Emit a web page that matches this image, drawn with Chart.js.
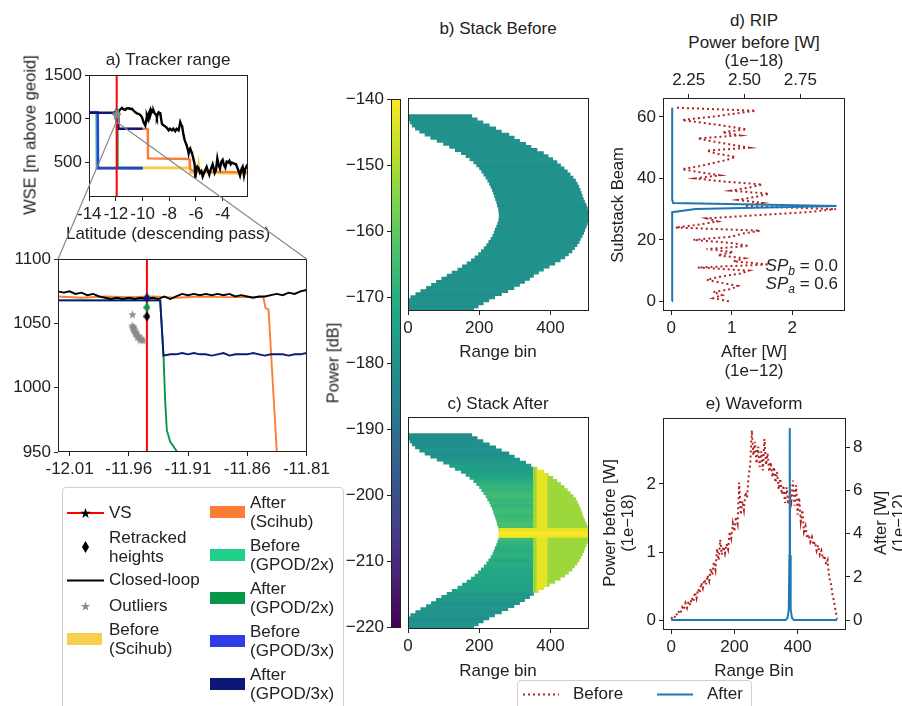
<!DOCTYPE html>
<html>
<head>
<meta charset="utf-8">
<script src="https://cdn.jsdelivr.net/npm/chart.js@4.4.1/dist/chart.umd.min.js"></script>
<style>
  body { margin: 0; background: #fff; }
  #fig { position: relative; width: 902px; height: 706px; overflow: hidden; font-family: 'Liberation Sans', Arial, sans-serif; font-size: 17px; color: #222; }
  #fig canvas { position: absolute; }
  .lbl { position: absolute; white-space: nowrap; transform: translate(-50%, -50%); line-height: 19px; }
  .rot { transform: translate(-50%, -50%) rotate(-90deg); font-size: 16.5px; }
  .box { position: absolute; border: 1px solid #d0d0d0; border-radius: 4px; background: rgba(255,255,255,0.85); }
  .leg { position: absolute; white-space: nowrap; line-height: 18.5px; transform: translateY(-50%); }
  .hnd { position: absolute; transform: translateY(-50%); }
  #ov { left: 0; top: 0; z-index: 5; pointer-events: none; }
</style>
</head>
<body>
<div id="fig">
  <canvas id="cA"></canvas>
  <canvas id="cZ"></canvas>
  <canvas id="cCb"></canvas>
  <canvas id="cB"></canvas>
  <canvas id="cC"></canvas>
  <canvas id="cD"></canvas>
  <canvas id="cE"></canvas>

  <div class="lbl" style="left:168px;top:59px">a) Tracker range</div>
  <div class="lbl rot" style="left:30px;top:135px">WSE [m above geoid]</div>
  <div class="lbl" style="left:168px;top:233px">Latitude (descending pass)</div>

  <div class="lbl" style="left:498px;top:28px">b) Stack Before</div>
  <div class="lbl" style="left:498px;top:351px">Range bin</div>
  <div class="lbl" style="left:498px;top:403px">c) Stack After</div>
  <div class="lbl" style="left:498px;top:670px">Range bin</div>
  <div class="lbl rot" style="left:333px;top:363px">Power [dB]</div>

  <div class="lbl" style="left:754px;top:20px">d) RIP</div>
  <div class="lbl" style="left:754px;top:42px">Power before [W]</div>
  <div class="lbl" style="left:754px;top:60px">(1e&#8722;18)</div>
  <div class="lbl rot" style="left:617px;top:205px">Substack Beam</div>
  <div class="lbl" style="left:754px;top:351px">After [W]</div>
  <div class="lbl" style="left:754px;top:370px">(1e&#8722;12)</div>
  <div class="leg" style="right:64px;top:269px"><i>SP</i><sub style="font-size:12px"><i>b</i></sub> = 0.0</div>
  <div class="leg" style="right:64px;top:287px"><i>SP</i><sub style="font-size:12px"><i>a</i></sub> = 0.6</div>

  <div class="lbl" style="left:754px;top:403px">e) Waveform</div>
  <div class="lbl rot" style="left:609px;top:523px">Power before [W]</div>
  <div class="lbl rot" style="left:627px;top:523px">(1e&#8722;18)</div>
  <div class="lbl rot" style="left:880px;top:523px">After [W]</div>
  <div class="lbl rot" style="left:898px;top:523px">(1e&#8722;12)</div>
  <div class="lbl" style="left:754px;top:670px">Range Bin</div>

  <div class="box" style="left:62px;top:487px;width:280px;height:240px"></div>
  <div id="legA"></div>

  <div class="box" style="left:517px;top:680px;width:233px;height:40px"></div>
  <div id="legE"></div>

  <canvas id="ov"></canvas>
</div>

<script>
// ---------- a) tracker range (latitude in deg, WSE in m) ----------
const vsLat = -11.9447;
const latTicksA = [-14, -12, -10, -8, -6, -4];
const wseTicksA = [500, 1000, 1500];
const zoomLatRange = [-12.0198, -11.8095];
const zoomWseRange = [950, 1100];
const latTicksZoom = [-12.01, -11.96, -11.91, -11.86, -11.81];
const wseTicksZoom = [950, 1000, 1050, 1100];

const closedLoopLat = [-12.05, -12.04, -12.03,
  -12.025, -12.02, -12.015, -12.01, -12.005, -12.0, -11.995, -11.99, -11.985,
  -11.98, -11.975, -11.97, -11.965, -11.96, -11.955, -11.95, -11.945,
  -11.94, -11.935, -11.93, -11.925, -11.92, -11.915, -11.91, -11.905,
  -11.9, -11.895, -11.89, -11.885, -11.88, -11.875, -11.87, -11.865,
  -11.86, -11.855, -11.85, -11.845, -11.84, -11.835, -11.83, -11.825,
  -11.82, -11.815, -11.81, -11.805,
  -11.7, -11.55, -11.45, -11.3, -11.2, -11.05, -10.9, -10.8, -10.65, -10.55,
  -10.4, -10.3, -10.15, -10.05, -9.93, -9.85, -9.8, -9.7, -9.68, -9.6,
  -9.55, -9.45, -9.43, -9.35, -9.3, -9.2, -9.18, -9.1, -9.05, -8.95,
  -8.93, -8.85, -8.8, -8.7, -8.68, -8.55, -8.43, -8.3, -8.2, -8.05,
  -7.95, -7.8, -7.7, -7.55, -7.45, -7.3, -7.18, -7.1, -7.05, -6.93,
  -6.85, -6.8, -6.7, -6.6, -6.55, -6.5, -6.43, -6.35, -6.3, -6.2,
  -6.1, -6.05, -5.95, -5.9, -5.8, -5.7, -5.6, -5.5, -5.4, -5.3,
  -5.2, -5.1, -5.0, -4.9, -4.75, -4.7, -4.6, -4.5, -4.4, -4.3,
  -4.2, -4.1, -4.0, -3.9, -3.8, -3.7, -3.6, -3.5, -3.4, -3.3,
  -3.2, -3.0, -2.9, -2.8, -2.7, -2.6, -2.5, -2.4, -2.3, -2.2,
  -2.1];
const closedLoopWse = [1078, 1076, 1075,
  1075, 1075, 1074, 1075, 1073, 1074, 1072, 1073, 1071,
  1070, 1069, 1070, 1069, 1070, 1069, 1070, 1069,
  1070, 1069, 1071, 1069, 1071, 1073, 1072, 1073,
  1072, 1073, 1072, 1073, 1072, 1073, 1071, 1072,
  1071, 1070, 1071, 1071, 1072, 1073, 1072, 1074,
  1073, 1075, 1076, 1076,
  1105, 1125, 1110, 1102, 1120, 1121, 1113, 1115, 1090, 1075,
  1060, 1057, 1040, 1019, 962, 940, 925, 1010, 1038, 1000,
  1057, 1094, 1038, 1080, 1094, 1075, 1094, 1064, 1057, 1030,
  1019, 1060, 1075, 1064, 1064, 943, 925, 913, 900, 868,
  887, 868, 887, 860, 887, 868, 962, 930, 925, 811,
  760, 736, 698, 640, 604, 640, 660, 623, 604, 547,
  480, 321, 434, 453, 434, 380, 400, 340, 380, 415,
  450, 400, 360, 420, 480, 450, 380, 415, 547, 470,
  430, 509, 530, 470, 440, 510, 500, 520, 480, 500,
  490, 480, 440, 400, 350, 420, 450, 350, 430, 460,
  440];

const afterGpod3Lat = [-14.0, -11.9335, -11.9307,
  -11.925, -11.92, -11.915, -11.91, -11.905, -11.9, -11.895, -11.89, -11.885, -11.88,
  -11.875, -11.87, -11.865, -11.86, -11.855, -11.85, -11.845, -11.84, -11.835, -11.83,
  -11.825, -11.82, -11.815, -11.81, -11.805, -11.795, -10.0];
const afterGpod3Wse = [1068, 1068, 1025,
  1026, 1026, 1027, 1026, 1027, 1026, 1026, 1025, 1026, 1027,
  1025, 1026, 1026, 1026, 1027, 1026, 1025, 1026, 1026, 1026,
  1025, 1026, 1026, 1027, 1026, 887, 887];

const beforeGpod3Lat = [-14.0, -13.36, -13.34, -10.0];
const beforeGpod3Wse = [1075, 1075, 434, 434];

const afterGpod2Lat = [-14.0, -11.9335, -11.9307, -11.9293, -11.9279, -11.925, -11.919, -11.9, -11.88, -10.0];
const afterGpod2Wse = [1068, 1068, 1025, 990, 967, 958, 950, 700, 440, 438];

const beforeGpod2Lat = [-14.0, -13.45, -13.43, -10.0];
const beforeGpod2Wse = [1075, 1075, 438, 438];

const afterSciLat = [-14.0, -12.02, -12.0, -11.98, -11.96, -11.94, -11.92, -11.9, -11.88, -11.86,
  -11.8464, -11.8445, -11.842, -11.835, -11.83, -9.62, -9.6, -6.5, -6.45, -6.3,
  -6.0, -5.0, -4.0, -3.0, -2.5, -2.1];
const afterSciWse = [1071, 1071, 1070, 1071, 1070.5, 1071, 1070, 1071, 1070.5, 1070.5,
  1070.5, 1062, 1061, 950, 885, 885, 547, 540, 430, 410,
  400, 395, 392, 390, 392, 390];

const beforeSciLat = [-14.0, -13.42, -13.40, -10.0, -6.45, -6.4, -5.85, -5.8, -5.75, -4.0, -2.1];
const beforeSciWse = [1076, 1076, 440, 440, 438, 385, 390, 455, 395, 380, 378];

const retrackedLat = [vsLat, vsLat, vsLat];
const retrackedWse = [1070, 1062.5, 1055.5];

const outlierLat = [-11.9569, -11.9570, -11.9565, -11.9560, -11.9555, -11.9550, -11.9545, -11.9540,
  -11.9530, -11.9525, -11.9520, -11.9510, -11.9500, -11.9490, -11.9480];
const outlierWse = [1056.7, 1048, 1046, 1047, 1044, 1045, 1042, 1043,
  1041, 1039, 1040, 1038, 1037, 1038, 1036.5];

// ---------- b) / c) stacks: one row per substack beam ----------
const stackBinRange = [0, 508];
const stackBinTicks = [0, 200, 400];
const innerEdge = [0, 0, 0, 0, 8, 22, 36, 52, 66, 80,
  95, 110, 124, 140, 153, 166, 178, 188, 198, 206,
  214, 221, 227, 233, 238, 242, 245, 249, 252, 255,
  256, 256, 255, 254, 251, 249, 246, 243, 240, 237,
  233, 229, 224, 219, 213, 207, 201, 193, 185, 174,
  163, 150, 133, 117, 100, 82, 64, 48, 33, 21,
  12, 6, 2, 0];
const outerEdge = [184, 197, 211, 227, 243, 262, 280, 297, 313, 327,
  341, 352, 366, 380, 396, 412, 427, 440, 450, 460,
  467, 474, 480, 484, 489, 493, 496, 500, 503, 505,
  506, 506, 505, 503, 500, 496, 492, 489, 486, 483,
  479, 475, 470, 463, 455, 447, 438, 428, 418, 406,
  393, 380, 362, 345, 330, 313, 298, 283, 262, 246,
  228, 210, 194, 179];
const beforeRowDb = [-180, -181, -180, -179, -180, -181, -180, -180, -179, -180,
  -181, -180, -180, -179, -180, -180, -181, -180, -179, -180,
  -180, -180, -181, -180, -179, -180, -180, -181, -180, -180,
  -179, -180, -180, -180, -181, -180, -180, -179, -180, -180,
  -181, -180, -180, -179, -180, -180, -180, -181, -180, -179,
  -180, -180, -181, -180, -180, -179, -180, -180, -181, -180,
  -180, -179, -180, -181];
const afterRowDb = [-180, -179, -180, -181, -179, -180, -178, -179, -180, -178,
  -177, -178, -175, -174, -175, -173, -174, -172, -173, -172,
  -171, -170, -172, -170, -169, -171, -170, -169, -168, -166,
  -142, -140, -143, -164, -163, -165, -166, -167, -165, -166,
  -168, -166, -167, -165, -166, -168, -167, -169, -170, -172,
  -174, -175, -176, -175, -177, -178, -180, -181, -179, -180,
  -181, -180, -182, -181];
const afterLineBeams = [30, 31, 32];
const afterColumnBin = 352;
const afterColumnDb = -152;
const afterStripBins = [362, 390];
const afterStripBeams = [10, 52];
const afterStripDb = -143;

const cbRange = [-220, -140];
const cbTicks = [-220, -210, -200, -190, -180, -170, -160, -150, -140];

// ---------- d) RIP, per substack beam ----------
const ripBefore = [2.43, 2.36, 2.40, 2.36, 2.44, 2.47, 2.40, 2.33, 2.39, 2.48,
  2.52, 2.29, 2.61, 2.45, 2.50, 2.38, 2.45, 2.33, 2.52, 2.44,
  2.27, 2.44, 2.49, 2.57, 2.19, 2.30, 2.38, 2.33, 2.55, 2.78,
  2.91, 2.50, 2.58, 2.47, 2.55, 2.61, 2.44, 2.52, 2.58, 2.40,
  2.28, 2.39, 2.30, 2.22, 2.30, 2.36, 2.42, 2.46, 2.38, 2.33,
  2.52, 2.44, 2.36, 2.29, 2.48, 2.40, 2.51, 2.42, 2.32, 2.22,
  2.35, 2.45, 2.55, 2.19];
const ripAfter = [0.015, 0.015, 0.015, 0.015, 0.015, 0.015, 0.015, 0.015, 0.015, 0.015,
  0.015, 0.015, 0.015, 0.015, 0.015, 0.015, 0.015, 0.015, 0.015, 0.015,
  0.015, 0.015, 0.015, 0.015, 0.015, 0.015, 0.015, 0.015, 0.015, 0.02,
  0.40, 2.73, 0.03, 0.015, 0.015, 0.015, 0.015, 0.015, 0.015, 0.015,
  0.015, 0.015, 0.015, 0.015, 0.015, 0.015, 0.015, 0.015, 0.015, 0.015,
  0.015, 0.015, 0.015, 0.015, 0.015, 0.015, 0.015, 0.015, 0.015, 0.015,
  0.015, 0.015, 0.015, 0.015];

// ---------- e) waveform ----------
const waveStep = 5;
const waveBefore = [0.02, 0.05, 0.03, 0.10, 0.07, 0.14, 0.11, 0.19, 0.15, 0.25,
  0.18, 0.28, 0.22, 0.33, 0.27, 0.41, 0.32, 0.46, 0.40, 0.55,
  0.47, 0.60, 0.52, 0.66, 0.58, 0.76, 0.66, 0.86, 0.74, 1.05,
  0.88, 1.18, 0.96, 1.08, 0.98, 1.12, 1.04, 1.30, 1.20, 1.42,
  1.30, 1.52, 1.42, 2.02, 1.55, 1.75, 1.62, 1.88, 1.80, 2.12,
  2.28, 2.79, 2.42, 2.62, 2.30, 2.55, 2.25, 2.48, 2.20, 2.66,
  2.28, 2.45, 2.18, 2.32, 2.10, 2.25, 2.02, 2.18, 1.92, 2.08,
  1.85, 1.98, 1.72, 1.95, 1.70, 1.88, 1.75, 2.05, 1.68, 1.98,
  1.55, 1.80, 1.45, 1.62, 1.30, 1.38, 1.20, 1.26, 1.15, 1.22,
  1.10, 1.15, 1.02, 1.10, 0.96, 1.02, 0.90, 0.95, 0.82, 0.88,
  0.62, 0.55, 0.38, 0.28, 0.14, 0.02];
const waveAfterBin = [0, 362, 368, 372, 374, 375, 376, 378, 382, 388, 525];
const waveAfter = [0, 0, 0.1, 0.5, 3.0, 8.9, 3.0, 0.5, 0.1, 0, 0];

// ---------- styling ----------
const C = {
  yellow: '#f6d04d', orange: '#fb7d36', lgreen: '#20d08a', dgreen: '#08964a',
  blue: '#2f3de6', navy: '#0c1878', red: '#ff0000', gray: '#8a8a8a',
  brick: '#b22222', tab: '#1f77b4', ink: '#222'
};
const VIRIDIS = ['#440154', '#482475', '#414487', '#355f8d', '#2a788e', '#21918c',
  '#22a884', '#44bf70', '#7ad151', '#bddf26', '#fde725'];

function hexRgb(h) { return [1, 3, 5].map(i => parseInt(h.substr(i, 2), 16)); }
function viridis(t) {
  t = Math.max(0, Math.min(1, t)) * 10;
  const i = Math.min(9, Math.floor(t)), f = t - i;
  const a = hexRgb(VIRIDIS[i]), b = hexRgb(VIRIDIS[i + 1]);
  return 'rgb(' + a.map((v, k) => Math.round(v + (b[k] - v) * f)).join(',') + ')';
}
const dbColor = db => viridis((db - cbRange[0]) / (cbRange[1] - cbRange[0]));

Chart.defaults.font.family = "'Liberation Sans', Arial, sans-serif";
Chart.defaults.font.size = 17;
Chart.defaults.color = C.ink;

const pts = (xs, ys) => xs.map((x, i) => ({ x, y: ys[i] }));

function starImg(color, size) {
  const c = document.createElement('canvas');
  c.width = c.height = size;
  const g = c.getContext('2d');
  g.fillStyle = color;
  g.beginPath();
  for (let i = 0; i < 10; i++) {
    const r = i % 2 ? size * 0.2 : size * 0.5;
    const a = -Math.PI / 2 + i * Math.PI / 5;
    g.lineTo(size / 2 + r * Math.cos(a), size / 2 + r * Math.sin(a));
  }
  g.closePath();
  g.fill();
  return c;
}
function diamondImg(color, w, h) {
  const c = document.createElement('canvas');
  c.width = w; c.height = h;
  const g = c.getContext('2d');
  g.fillStyle = color;
  g.beginPath();
  g.moveTo(w / 2, 0); g.lineTo(w, h / 2); g.lineTo(w / 2, h); g.lineTo(0, h / 2);
  g.closePath();
  g.fill();
  return c;
}

// canvas sized so the plot area lands on plot.{x,y,w,h}; m = room for axes around it
function placeCanvas(id, plot, m) {
  const cv = document.getElementById(id);
  cv.width = plot.w + m.l + m.r;
  cv.height = plot.h + m.t + m.b;
  cv.style.left = (plot.x - m.l) + 'px';
  cv.style.top = (plot.y - m.t) + 'px';
  cv.style.width = cv.width + 'px';
  cv.style.height = cv.height + 'px';
  return cv;
}

const tickGrid = { display: true, drawOnChartArea: false, drawTicks: true, tickLength: 4, color: C.ink, lineWidth: 1 };
function linAxis(range, ticks, fmt, fit, extra) {
  return Object.assign({
    type: 'linear', min: range[0], max: range[1],
    border: { display: false }, grid: tickGrid,
    afterBuildTicks: s => { s.ticks = ticks.map(v => ({ value: v })); },
    ticks: { padding: 3, autoSkip: false, maxRotation: 0, callback: v => fmt(v) },
    afterFit: fit
  }, extra || {});
}
const fitW = w => s => { s.width = w; };
const fitH = h => s => { s.height = h; };

function base(opts) {
  return Object.assign({
    responsive: false, animation: false, devicePixelRatio: 1, events: [],
    plugins: { legend: { display: false }, tooltip: { enabled: false } }
  }, opts);
}

const framePlugin = {
  id: 'frame',
  afterDraw(chart) {
    const a = chart.chartArea, ctx = chart.ctx;
    ctx.save();
    ctx.strokeStyle = C.ink;
    ctx.lineWidth = 1;
    const l = Math.round(a.left) + 0.5, t = Math.round(a.top) + 0.5;
    const r = Math.round(a.right) - 0.5, b = Math.round(a.bottom) - 0.5;
    ctx.strokeRect(l, t, r - l, b - t);
    ctx.restore();
  }
};

// red VS line, drawn over the tracker lines but under the markers
const vsPlugin = {
  id: 'vs',
  afterDatasetDraw(chart, args) {
    if (chart.data.datasets[args.index].label !== 'Closed-loop') return;
    const a = chart.chartArea, ctx = chart.ctx;
    const x = chart.scales.x.getPixelForValue(vsLat);
    ctx.save();
    ctx.strokeStyle = C.red;
    ctx.lineWidth = 2;
    ctx.beginPath();
    ctx.moveTo(x, a.top); ctx.lineTo(x, a.bottom);
    ctx.stroke();
    ctx.restore();
  }
};

function seriesLine(label, xs, ys, color, width) {
  return { label, data: pts(xs, ys), showLine: true, borderColor: color, backgroundColor: color,
    borderWidth: width, pointRadius: 0, tension: 0 };
}
function trackerSets(lw) {
  return [
    { label: 'Outliers', data: pts(outlierLat, outlierWse), showLine: false, pointRadius: 4,
      pointStyle: starImg(C.gray, 9) },
    { label: 'Retracked heights', data: pts(retrackedLat, retrackedWse), showLine: false, pointRadius: 4,
      pointStyle: [C.navy, C.dgreen, '#000'].map(c => diamondImg(c, 7, 10)) },
    seriesLine('Closed-loop', closedLoopLat, closedLoopWse, '#000', lw),
    seriesLine('After (GPOD/3x)', afterGpod3Lat, afterGpod3Wse, C.navy, lw),
    seriesLine('Before (GPOD/3x)', beforeGpod3Lat, beforeGpod3Wse, C.blue, lw),
    seriesLine('After (Scihub)', afterSciLat, afterSciWse, C.orange, lw),
    seriesLine('After (GPOD/2x)', afterGpod2Lat, afterGpod2Wse, C.dgreen, lw),
    seriesLine('Before (GPOD/2x)', beforeGpod2Lat, beforeGpod2Wse, C.lgreen, lw),
    seriesLine('Before (Scihub)', beforeSciLat, beforeSciWse, C.yellow, lw + 0.6)
  ];
}

// ---------- a) overview ----------
const plotA = { x: 89, y: 74, w: 159, h: 123 }, mA = { l: 50, r: 30, t: 12, b: 30 };
const cvA = placeCanvas('cA', plotA, mA);
const chartA = new Chart(cvA, {
  type: 'scatter',
  data: { datasets: trackerSets(2.4) },
  options: base({
    layout: { padding: { top: mA.t, right: mA.r, left: 0, bottom: 0 } },
    scales: {
      x: linAxis([-14.02, -2.1], latTicksA, v => String(v), fitH(mA.b)),
      y: linAxis([105, 1500], wseTicksA, v => String(v), fitW(mA.l))
    }
  }),
  plugins: [framePlugin, vsPlugin]
});

// ---------- a) zoom around the VS ----------
const plotZ = { x: 58, y: 258, w: 249, h: 194 }, mZ = { l: 52, r: 30, t: 12, b: 30 };
const cvZ = placeCanvas('cZ', plotZ, mZ);
const chartZ = new Chart(cvZ, {
  type: 'scatter',
  data: { datasets: trackerSets(1.9) },
  options: base({
    layout: { padding: { top: mZ.t, right: mZ.r, left: 0, bottom: 0 } },
    scales: {
      x: linAxis(zoomLatRange, latTicksZoom, v => v.toFixed(2), fitH(mZ.b)),
      y: linAxis(zoomWseRange, wseTicksZoom, v => String(v), fitW(mZ.l))
    }
  }),
  plugins: [framePlugin, vsPlugin]
});

// ---------- colorbar ----------
const plotCb = { x: 391, y: 98, w: 10, h: 531 }, mCb = { l: 55, r: 3, t: 12, b: 12 };
const cvCb = placeCanvas('cCb', plotCb, mCb);
new Chart(cvCb, {
  type: 'bar',
  data: {
    labels: [''],
    datasets: [{
      data: [cbRange],
      barPercentage: 1, categoryPercentage: 1, borderWidth: 0,
      backgroundColor: ctx => {
        const a = ctx.chart.chartArea;
        if (!a) return VIRIDIS[5];
        const g = ctx.chart.ctx.createLinearGradient(0, a.bottom, 0, a.top);
        VIRIDIS.forEach((c, i) => g.addColorStop(i / 10, c));
        return g;
      }
    }]
  },
  options: base({
    layout: { padding: { top: mCb.t, right: mCb.r, bottom: mCb.b, left: 0 } },
    scales: {
      x: { display: false },
      y: linAxis(cbRange, cbTicks, v => '\u2212' + Math.abs(v), fitW(mCb.l))
    }
  }),
  plugins: [framePlugin]
});

// ---------- b) / c) stacks as floating row bars ----------
const beams = innerEdge.map((_, i) => i);
function rowBars(rows, span, colorOf) {
  return {
    data: rows.map(b => ({ y: b, x: span(b) })),
    backgroundColor: rows.map(colorOf),
    grouped: false, barPercentage: 1, categoryPercentage: 1, borderWidth: 0, inflateAmount: 0.4
  };
}
function stackChart(id, plot, datasets) {
  const m = { l: 10, r: 10, t: 10, b: 30 };
  const cv = placeCanvas(id, plot, m);
  return new Chart(cv, {
    type: 'bar',
    data: { datasets },
    options: base({
      indexAxis: 'y',
      layout: { padding: { top: m.t, right: m.r, left: m.l, bottom: 0 } },
      scales: {
        x: linAxis(stackBinRange, stackBinTicks, v => String(v), fitH(m.b)),
        y: { type: 'linear', min: -0.5, max: 68.96, offset: false, display: false }
      }
    }),
    plugins: [framePlugin]
  });
}

stackChart('cB', { x: 408, y: 98, w: 181, h: 213 }, [
  rowBars(beams, b => [innerEdge[b], outerEdge[b]], b => dbColor(beforeRowDb[b]))
]);

const columnRows = beams.filter(b => outerEdge[b] > afterColumnBin);
const stripRows = columnRows.filter(b => b >= afterStripBeams[0] && b <= afterStripBeams[1]);
stackChart('cC', { x: 408, y: 417, w: 181, h: 212 }, [
  rowBars(afterLineBeams, b => [innerEdge[b], outerEdge[b]], b => dbColor(afterRowDb[b])),
  rowBars(stripRows, b => [afterStripBins[0], Math.min(afterStripBins[1], outerEdge[b])], () => dbColor(afterStripDb)),
  rowBars(columnRows, b => [afterColumnBin, outerEdge[b]], () => dbColor(afterColumnDb)),
  rowBars(beams, b => [innerEdge[b], Math.min(outerEdge[b], afterColumnBin)], b => dbColor(afterRowDb[b]))
]);

// ---------- d) RIP ----------
const plotD = { x: 663, y: 98, w: 182, h: 213 }, mD = { l: 45, r: 12, t: 30, b: 30 };
const cvD = placeCanvas('cD', plotD, mD);
new Chart(cvD, {
  type: 'scatter',
  data: {
    datasets: [
      { label: 'After', data: pts(ripAfter, beams), xAxisID: 'x', showLine: true,
        borderColor: C.tab, borderWidth: 2, pointRadius: 0 },
      { label: 'Before', data: pts(ripBefore, beams), xAxisID: 'xTop', showLine: true,
        borderColor: C.brick, borderWidth: 2, borderDash: [2, 3], pointRadius: 0 }
    ]
  },
  options: base({
    layout: { padding: { top: 0, right: mD.r, left: 0, bottom: 0 } },
    scales: {
      x: linAxis([-0.137, 2.87], [0, 1, 2], v => String(v), fitH(mD.b)),
      xTop: linAxis([2.135, 2.95], [2.25, 2.5, 2.75], v => v.toFixed(2), fitH(mD.t), { position: 'top', axis: 'x' }),
      y: linAxis([-3.15, 66.15], [0, 20, 40, 60], v => String(v), fitW(mD.l))
    }
  }),
  plugins: [framePlugin]
});

// ---------- e) waveform ----------
const plotE = { x: 663, y: 417, w: 183, h: 213 }, mE = { l: 40, r: 30, t: 12, b: 30 };
const cvE = placeCanvas('cE', plotE, mE);
new Chart(cvE, {
  type: 'scatter',
  data: {
    datasets: [
      { label: 'After', data: pts(waveAfterBin, waveAfter), yAxisID: 'y2', showLine: true,
        borderColor: C.tab, borderWidth: 2, pointRadius: 0 },
      { label: 'Before', data: pts(waveBefore.map((_, i) => i * waveStep), waveBefore), yAxisID: 'y', showLine: true,
        borderColor: C.brick, borderWidth: 2, borderDash: [2, 3], pointRadius: 0 }
    ]
  },
  options: base({
    layout: { padding: { top: mE.t, right: 0, left: 0, bottom: 0 } },
    scales: {
      x: linAxis([-26, 553], [0, 200, 400], v => String(v), fitH(mE.b)),
      y: linAxis([-0.145, 2.966], [0, 1, 2], v => String(v), fitW(mE.l)),
      y2: linAxis([-0.46, 9.36], [0, 2, 4, 6, 8], v => String(v), fitW(mE.r), { position: 'right', axis: 'y' })
    }
  }),
  plugins: [framePlugin]
});

// ---------- inset connectors between a) and its zoom ----------
(function () {
  const ov = document.getElementById('ov');
  ov.width = 902; ov.height = 706;
  ov.style.width = '902px'; ov.style.height = '706px';
  const g = ov.getContext('2d');
  const sx = chartA.scales.x, sy = chartA.scales.y;
  const ox = cvA.offsetLeft, oy = cvA.offsetTop;
  const x0 = ox + sx.getPixelForValue(zoomLatRange[0]), x1 = ox + sx.getPixelForValue(zoomLatRange[1]);
  const yLo = oy + sy.getPixelForValue(zoomWseRange[0]), yHi = oy + sy.getPixelForValue(zoomWseRange[1]);
  const za = chartZ.chartArea, zx = cvZ.offsetLeft, zy = cvZ.offsetTop;
  g.strokeStyle = '#888';
  g.lineWidth = 1.2;
  g.strokeRect(x0, yHi, x1 - x0, yLo - yHi);
  g.beginPath();
  g.moveTo(x0, yLo); g.lineTo(zx + za.left, zy + za.top);
  g.moveTo(x1, yLo); g.lineTo(zx + za.right, zy + za.top);
  g.stroke();
})();

// ---------- legends ----------
function starPoints(cx, cy, R) {
  const p = [];
  for (let i = 0; i < 10; i++) {
    const r = i % 2 ? R * 0.4 : R;
    const a = -Math.PI / 2 + i * Math.PI / 5;
    p.push((cx + r * Math.cos(a)).toFixed(2) + ',' + (cy + r * Math.sin(a)).toFixed(2));
  }
  return p.join(' ');
}
const handles = {
  vs: '<svg width="37" height="12"><line x1="0" y1="6" x2="37" y2="6" stroke="' + C.red + '" stroke-width="2"/>' +
      '<polygon fill="#000" points="' + starPoints(18.5, 6.5, 5.5) + '"/></svg>',
  diamond: '<svg width="37" height="12"><polygon fill="#000" points="18.5,0 22,6 18.5,12 15,6"/></svg>',
  line: '<svg width="37" height="4"><line x1="0" y1="2" x2="37" y2="2" stroke="#000" stroke-width="2"/></svg>',
  star: '<svg width="37" height="12"><polygon fill="' + C.gray + '" points="' + starPoints(18.5, 6.5, 5) + '"/></svg>',
  patch: c => '<svg width="35" height="12"><rect width="35" height="12" fill="' + c + '"/></svg>'
};
const legA = [
  { hx: 67, tx: 109, y: 513, h: handles.vs, t: 'VS' },
  { hx: 67, tx: 109, y: 547, h: handles.diamond, t: 'Retracked<br>heights' },
  { hx: 67, tx: 109, y: 580, h: handles.line, t: 'Closed-loop' },
  { hx: 67, tx: 109, y: 606, h: handles.star, t: 'Outliers' },
  { hx: 67, tx: 109, y: 639, h: handles.patch(C.yellow), t: 'Before<br>(Scihub)' },
  { hx: 210, tx: 250, y: 512, h: handles.patch(C.orange), t: 'After<br>(Scihub)' },
  { hx: 210, tx: 250, y: 555, h: handles.patch(C.lgreen), t: 'Before<br>(GPOD/2x)' },
  { hx: 210, tx: 250, y: 598, h: handles.patch(C.dgreen), t: 'After<br>(GPOD/2x)' },
  { hx: 210, tx: 250, y: 641, h: handles.patch(C.blue), t: 'Before<br>(GPOD/3x)' },
  { hx: 210, tx: 250, y: 684, h: handles.patch(C.navy), t: 'After<br>(GPOD/3x)' }
];
document.getElementById('legA').innerHTML = legA.map(e =>
  '<div class="hnd" style="left:' + e.hx + 'px;top:' + e.y + 'px;line-height:0">' + e.h + '</div>' +
  '<div class="leg" style="left:' + e.tx + 'px;top:' + e.y + 'px">' + e.t + '</div>').join('');

document.getElementById('legE').innerHTML =
  '<div class="hnd" style="left:523px;top:694px;line-height:0"><svg width="36" height="4"><line x1="0" y1="2" x2="36" y2="2" stroke="' + C.brick + '" stroke-width="2" stroke-dasharray="2,3"/></svg></div>' +
  '<div class="leg" style="left:573px;top:694px">Before</div>' +
  '<div class="hnd" style="left:657px;top:694px;line-height:0"><svg width="36" height="4"><line x1="0" y1="2" x2="36" y2="2" stroke="' + C.tab + '" stroke-width="2"/></svg></div>' +
  '<div class="leg" style="left:707px;top:694px">After</div>';
</script>
</body>
</html>
